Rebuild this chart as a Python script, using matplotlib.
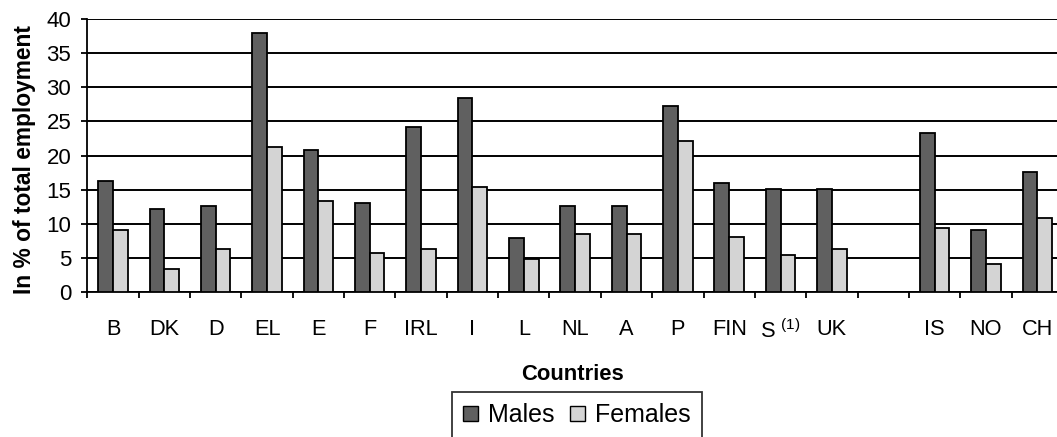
import numpy as np
import matplotlib
matplotlib.use("Agg")
import matplotlib.pyplot as plt
from matplotlib.patches import Patch

plt.rcParams['font.family'] = ['Liberation Sans', 'DejaVu Sans']

categories = ["B", "DK", "D", "EL", "E", "F", "IRL", "I", "L", "NL", "A", "P",
              "FIN", "S $^{\\mathregular{(1)}}$", "UK", "", "IS", "NO", "CH"]
males = [16.3, 12.2, 12.7, 37.9, 20.9, 13.0, 24.2, 28.5, 7.9, 12.7, 12.7, 27.3,
         16.0, 15.1, 15.1, np.nan, 23.3, 9.1, 17.6]
females = [9.1, 3.4, 6.4, 21.3, 13.4, 5.7, 6.4, 15.4, 4.9, 8.5, 8.5, 22.1,
           8.1, 5.4, 6.4, np.nan, 9.4, 4.2, 10.9]
yticks = [0, 5, 10, 15, 20, 25, 30, 35, 40]

W, H = 1057, 437
fig = plt.figure(figsize=(W / 100, H / 100), dpi=100)
ax_l, ax_r, ax_b, ax_t = 87.3, 1063.0, 292.3, 19.0
ax = fig.add_axes([ax_l / W, 1 - ax_b / H, (ax_r - ax_l) / W, (ax_b - ax_t) / H])

x = np.arange(len(categories))
w = 0.287
ax.bar(x - w / 2, males, width=w, color="#606060", edgecolor="black", linewidth=1.3, zorder=3)
ax.bar(x + w / 2, females, width=w, color="#d4d4d4", edgecolor="black", linewidth=1.3, zorder=3)

ax.set_xlim(-0.5, len(categories) - 0.5)
ax.set_ylim(0, 40)
ax.set_yticks(yticks)
ax.yaxis.grid(True, color="black", linewidth=1.4, zorder=0)
ax.set_axisbelow(True)

ax.set_xticks(np.arange(len(categories) + 1) - 0.5)
ax.set_xticklabels([])
ax.set_xticks(x, minor=True)
ax.set_xticklabels(categories, minor=True)
ax.tick_params(axis="x", which="major", direction="out", length=4.5, width=1.3)
ax.tick_params(axis="x", which="minor", length=0, pad=19.5, labelsize=15.7)
ax.tick_params(axis="y", direction="out", length=4, width=1.3, labelsize=16, pad=7.5)

for s in ["top", "right"]:
    ax.spines[s].set_visible(False)
ax.spines["left"].set_linewidth(1.3)
ax.spines["bottom"].set_linewidth(1.3)

ax.set_ylabel("In % of total employment", fontsize=16.4, fontweight="bold")
ax.yaxis.set_label_coords((36 - ax_l) / (ax_r - ax_l), (ax_b - 160) / (ax_b - ax_t))
ax.set_xlabel("Countries", fontsize=15.8, fontweight="bold")
ax.xaxis.set_label_coords((572 - ax_l) / (ax_r - ax_l), (ax_b - 364) / (ax_b - ax_t))

handles = [Patch(facecolor="#606060", edgecolor="black", label="Males"),
           Patch(facecolor="#d4d4d4", edgecolor="black", label="Females")]
leg = fig.legend(handles=handles, loc="upper center", bbox_to_anchor=(577 / W, 1 - 392 / H), ncol=2,
                 fontsize=18, frameon=True, fancybox=False, edgecolor="black",
                 handlelength=0.6, handleheight=0.6, handletextpad=0.4, columnspacing=0.6,
                 borderpad=0.45, borderaxespad=0)
leg.get_frame().set_linewidth(1.3)

fig.savefig("out.png", dpi=100)
